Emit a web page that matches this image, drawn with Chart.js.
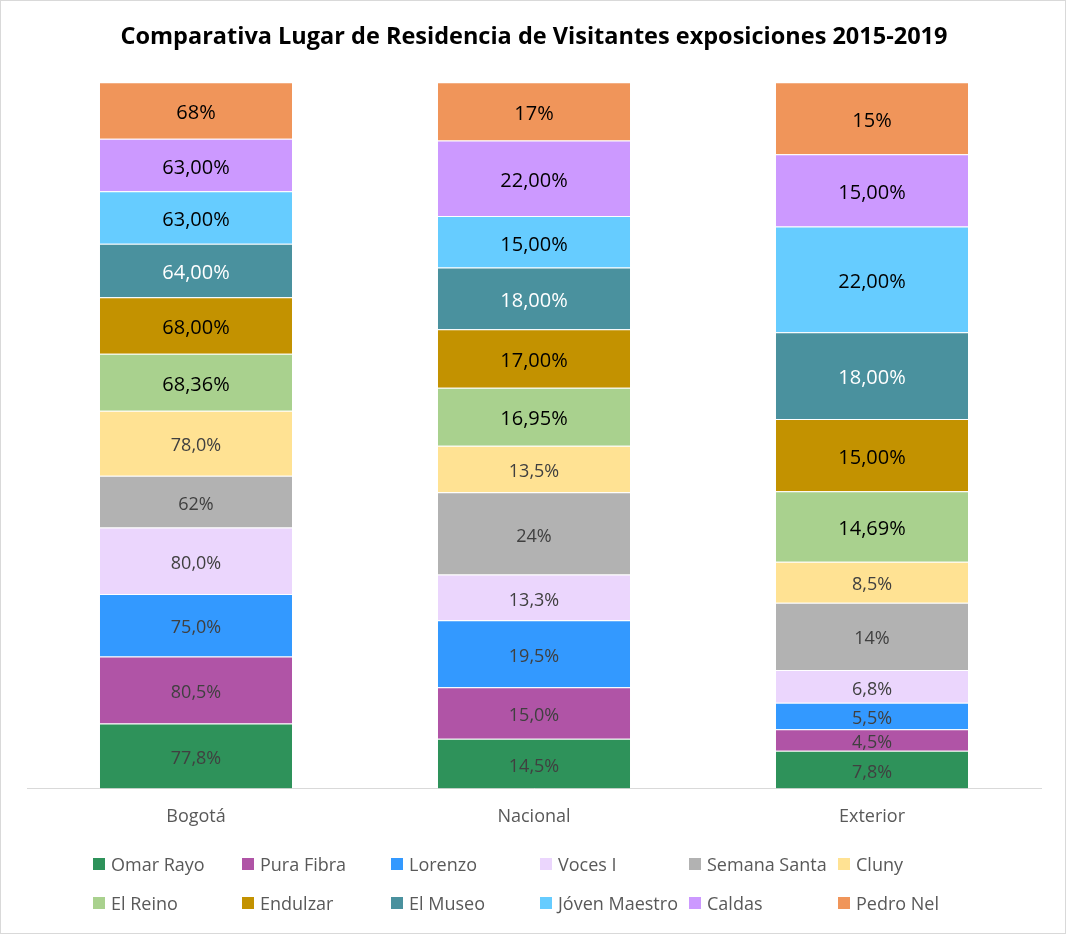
<!DOCTYPE html>
<html>
<head>
<meta charset="utf-8">
<script src="https://cdn.jsdelivr.net/npm/chart.js@4.4.1/dist/chart.umd.min.js"></script>
<style>
  body { margin: 0; background: #fff; }
  #wrap { position: relative; width: 1066px; height: 934px; border: 1px solid #d9d9d9; box-sizing: border-box; }
  #myChart { position: absolute; left: 0; top: 0; }
  #legend { position: absolute; left: 92px; top: 851px; display: grid; grid-template-columns: repeat(6, 149px); grid-auto-rows: 39px; font-family: "Open Sans", sans-serif; font-size: 18px; color: #595959; }
  #legend div { display: flex; align-items: center; height: 24px; white-space: nowrap; }
  #legend span.box { width: 12px; height: 12px; margin-right: 6px; display: inline-block; }
</style>
</head>
<body>
<div id="wrap">
  <canvas id="myChart" width="1064" height="932"></canvas>
  <div id="legend"></div>
</div>
<script>
let categories = ['Bogotá', 'Nacional', 'Exterior'];

// raw values per exhibition: [Bogotá, Nacional, Exterior]
let omarRayo     = [77.8, 14.5, 7.8];
let puraFibra    = [80.5, 15.0, 4.5];
let lorenzo      = [75.0, 19.5, 5.5];
let vocesI       = [80.0, 13.3, 6.8];
let semanaSanta  = [62, 24, 14];
let cluny        = [78.0, 13.5, 8.5];
let elReino      = [68.36, 16.95, 14.69];
let endulzar     = [68.00, 17.00, 15.00];
let elMuseo      = [64.00, 18.00, 18.00];
let jovenMaestro = [63.00, 15.00, 22.00];
let caldas       = [63.00, 22.00, 15.00];
let pedroNel     = [68, 17, 15];

let seriesNames = ['Omar Rayo', 'Pura Fibra', 'Lorenzo', 'Voces I', 'Semana Santa', 'Cluny',
  'El Reino', 'Endulzar', 'El Museo', 'Jóven Maestro', 'Caldas', 'Pedro Nel'];
let seriesValues = [omarRayo, puraFibra, lorenzo, vocesI, semanaSanta, cluny,
  elReino, endulzar, elMuseo, jovenMaestro, caldas, pedroNel];
let decimals = [1, 1, 1, 1, 0, 1, 2, 2, 2, 2, 2, 0];

// styles
let colors = ['#2E925A', '#B054A6', '#3399FF', '#EBD6FD', '#B2B2B2', '#FFE293',
  '#A9D18E', '#C39200', '#4A919E', '#66CCFF', '#CC99FF', '#F0955A'];
let labelColors = ['#404040', '#404040', '#404040', '#404040', '#404040', '#404040',
  '#000000', '#000000', '#ffffff', '#000000', '#000000', '#000000'];
let labelSizes = [18, 18, 18, 18, 18, 18, 20, 20, 20, 20, 20, 20];

// 100% stacked: share of each column total
let totals = categories.map((c, i) => seriesValues.reduce((s, arr) => s + arr[i], 0));

function fmt(v, d) {
  return v.toFixed(d).replace('.', ',') + '%';
}

let segmentLabels = {
  id: 'segmentLabels',
  afterDatasetsDraw(chart) {
    let ctx = chart.ctx;
    ctx.save();
    ctx.textAlign = 'center';
    ctx.textBaseline = 'middle';
    chart.data.datasets.forEach((ds, di) => {
      let meta = chart.getDatasetMeta(di);
      ctx.font = labelSizes[di] + 'px "Open Sans"';
      ctx.fillStyle = labelColors[di];
      meta.data.forEach((bar, i) => {
        let y = (bar.y + bar.base) / 2;
        ctx.fillText(fmt(seriesValues[di][i], decimals[di]), bar.x, y + 3);
      });
    });
    ctx.restore();
  }
};

let htmlLegend = {
  id: 'htmlLegend',
  afterUpdate(chart) {
    let box = document.getElementById('legend');
    box.innerHTML = '';
    chart.data.datasets.forEach((ds) => {
      let item = document.createElement('div');
      let sq = document.createElement('span');
      sq.className = 'box';
      sq.style.background = ds.backgroundColor;
      item.appendChild(sq);
      item.appendChild(document.createTextNode(ds.label));
      box.appendChild(item);
    });
  }
};

let ctx = document.getElementById('myChart').getContext('2d');
let myChart = new Chart(ctx, {
  type: 'bar',
  data: {
    labels: categories,
    datasets: seriesNames.map((name, k) => ({
      label: name,
      data: seriesValues[k].map((v, i) => v / totals[i] * 100),
      backgroundColor: colors[k],
      borderColor: 'rgba(255,255,255,0.3)',
      borderWidth: 1,
      categoryPercentage: 1.0,
      barPercentage: 0.574
    }))
  },
  options: {
    responsive: false,
    animation: false,
    layout: { padding: { left: 26, right: 24, top: 0, bottom: 87 } },
    plugins: {
      legend: { display: false },
      tooltip: { enabled: false },
      title: {
        display: true,
        text: 'Comparativa Lugar de Residencia de Visitantes exposiciones 2015-2019',
        color: '#000000',
        font: { family: '"Open Sans"', size: 23.5, weight: 'bold' },
        padding: { top: 22, bottom: 31 }
      }
    },
    scales: {
      x: {
        stacked: true,
        grid: { display: false, drawTicks: false },
        border: { display: true, color: '#d9d9d9', width: 1 },
        ticks: { color: '#595959', padding: 18, font: { family: '"Open Sans"', size: 18 } }
      },
      y: {
        stacked: true,
        display: false,
        min: 0,
        max: 100
      }
    }
  },
  plugins: [segmentLabels, htmlLegend]
});
</script>
</body>
</html>
